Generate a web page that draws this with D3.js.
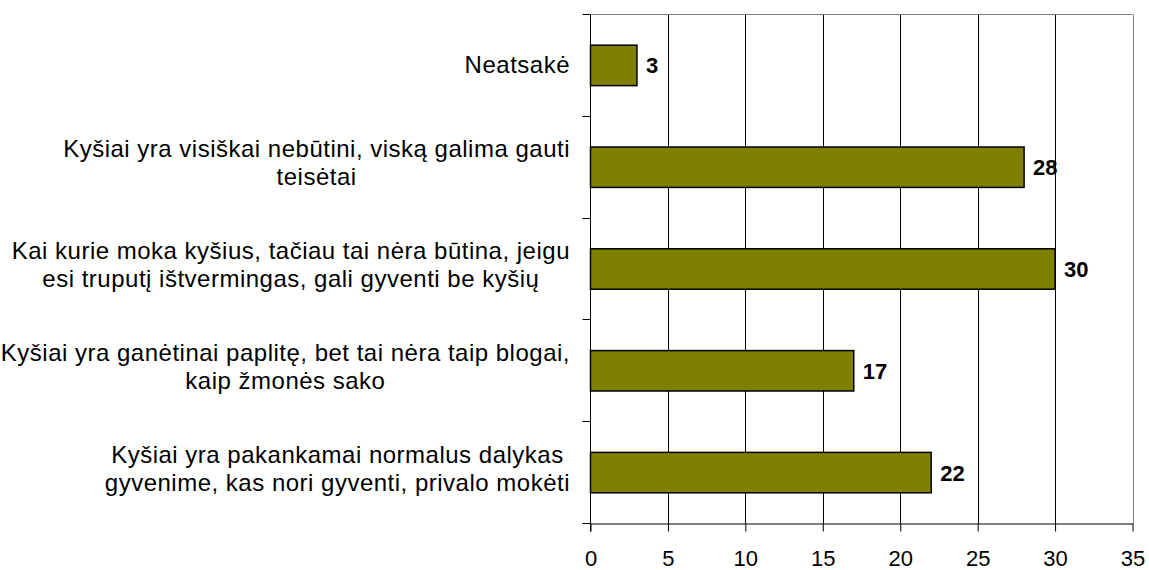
<!DOCTYPE html>
<html>
<head>
<meta charset="utf-8">
<script src="https://cdn.jsdelivr.net/npm/d3@7"></script>
<style>
    body { margin: 0; background: #fff; }
    text { font-family: "Liberation Sans", Arial, sans-serif; fill: #000; }
</style>
</head>
<body>
<div id="chart"></div>
<script>
const categories = [
    ["Neatsakė"],
    ["Kyšiai yra visiškai nebūtini, viską galima gauti", "teisėtai"],
    ["Kai kurie moka kyšius, tačiau tai nėra būtina, jeigu", "esi truputį ištvermingas, gali gyventi be kyšių"],
    ["Kyšiai yra ganėtinai paplitę, bet tai nėra taip blogai,", "kaip žmonės sako"],
    ["Kyšiai yra pakankamai normalus dalykas", "gyvenime, kas nori gyventi, privalo mokėti"]
];
const values = [3, 28, 30, 17, 22];
const xTicks = [0, 5, 10, 15, 20, 25, 30, 35];

const width = 1149, height = 570;
const plot = { left: 590.5, right: 1132.5, top: 14.5, bottom: 523.5 };

const svg = d3.select("#chart").append("svg")
    .attr("width", width)
    .attr("height", height);

const x = d3.scaleLinear().domain([0, 35]).range([plot.left, plot.right]);
const y = d3.scaleBand()
    .domain(d3.range(categories.length))
    .range([plot.top, plot.bottom])
    .paddingInner(0.603)
    .paddingOuter(0.3015);

// gridlines
svg.append("g").selectAll("line")
    .data(xTicks.slice(1))
    .enter().append("line")
    .attr("x1", d => Math.round(x(d)) + 0.5)
    .attr("x2", d => Math.round(x(d)) + 0.5)
    .attr("y1", plot.top)
    .attr("y2", plot.bottom)
    .attr("stroke", (d, i) => i === xTicks.length - 2 ? "#808080" : "#000")
    .attr("stroke-width", 1);

// top border
svg.append("line")
    .attr("x1", plot.left).attr("x2", plot.right)
    .attr("y1", plot.top).attr("y2", plot.top)
    .attr("stroke", "#808080");

// bars
const half = (y.step() - y.bandwidth()) / 2;
svg.append("g").selectAll("rect")
    .data(values)
    .enter().append("rect")
    .attr("x", x(0))
    .attr("y", (d, i) => y(i))
    .attr("width", d => x(d) - x(0))
    .attr("height", y.bandwidth())
    .attr("fill", "#808000")
    .attr("stroke", "#000")
    .attr("stroke-width", 1.5);

// value labels
svg.append("g").selectAll("text")
    .data(values)
    .enter().append("text")
    .attr("x", d => x(d) + 9)
    .attr("y", (d, i) => y(i) + y.bandwidth() / 2 + 8)
    .style("font-size", "22px")
    .style("font-weight", "bold")
    .text(d => d);

// bottom axis
const xAxis = svg.append("g")
    .attr("transform", `translate(0,${plot.bottom})`)
    .call(d3.axisBottom(x).tickValues(xTicks).tickSize(8).tickPadding(19).tickSizeOuter(0));
xAxis.select(".domain").attr("stroke", "#000");
xAxis.selectAll(".tick line").attr("stroke", "#000");
xAxis.selectAll("text").style("font-size", "22px").attr("font-family", null);

// left axis with ticks at category boundaries
const yAxis = svg.append("g");
yAxis.append("line")
    .attr("x1", plot.left).attr("x2", plot.left)
    .attr("y1", plot.top).attr("y2", plot.bottom + 8)
    .attr("stroke", "#000");
const bounds = categories.map((c, i) => y(i) - half).concat([plot.bottom]);
yAxis.selectAll(".yt")
    .data(bounds)
    .enter().append("line")
    .attr("class", "yt")
    .attr("x1", plot.left - 8).attr("x2", plot.left)
    .attr("y1", d => Math.round(d - 0.5) + 0.5)
    .attr("y2", d => Math.round(d - 0.5) + 0.5)
    .attr("stroke", "#000");

// category labels: block right-aligned, lines centred inside block
const labelRight = 570;
const lineGap = 28;
const labels = svg.append("g");
categories.forEach(function (lines, i) {
    const cy = y(i) + y.bandwidth() / 2;
    const g = labels.append("g");
    const texts = lines.map(function (line) {
        return g.append("text")
            .style("font-size", "24px")
            .style("letter-spacing", "0.5px")
            .attr("text-anchor", "middle")
            .text(line);
    });
    const maxW = d3.max(texts, t => t.node().getComputedTextLength());
    const first = lines.length === 1 ? cy + 8 : cy - 10;
    texts.forEach(function (t, j) {
        t.attr("x", labelRight - maxW / 2).attr("y", first + j * lineGap);
    });
});
</script>
</body>
</html>
